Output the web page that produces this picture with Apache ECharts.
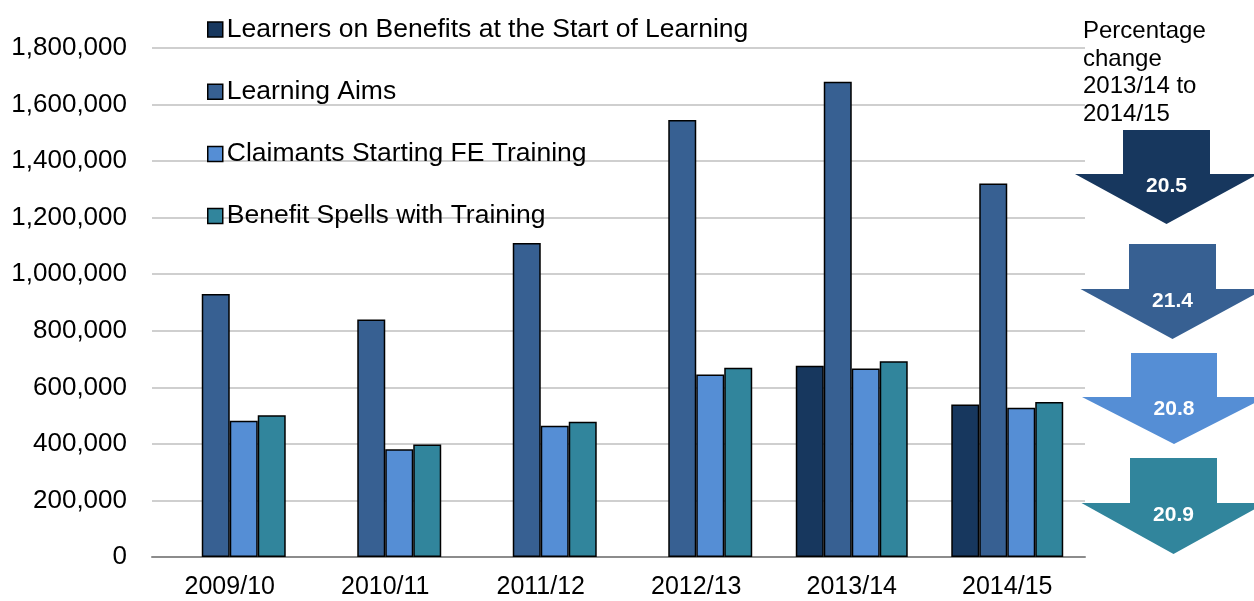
<!DOCTYPE html>
<html>
<head>
<meta charset="utf-8">
<script src="https://cdn.jsdelivr.net/npm/echarts@6/dist/echarts.min.js"></script>
<style>
  html, body { margin: 0; padding: 0; background: #fff; }
  #chart { width: 1254px; height: 601px; }
</style>
</head>
<body>
<div id="chart"></div>
<script>
var categories = ['2009/10', '2010/11', '2011/12', '2012/13', '2013/14', '2014/15'];
var learners = [null, null, null, null, 676000, 539000];
var aims = [930000, 840000, 1110000, 1545000, 1681000, 1321000];
var claimants = [482000, 381000, 464000, 645000, 667000, 528000];
var spells = [501000, 398000, 478000, 669000, 692000, 548000];
var seriesNames = [
  'Learners on Benefits at the Start of Learning',
  'Learning Aims',
  'Claimants Starting FE Training',
  'Benefit Spells with Training'
];
var pctChange = ['20.5', '21.4', '20.8', '20.9'];
var colors = ['#17375E', '#376092', '#558ED5', '#31859C'];

var chart = echarts.init(document.getElementById('chart'));

function arrow(cx, top, shoulder, tip, shaftHalf, headHalf, color, label) {
  return [{
    type: 'polygon',
    shape: {
      points: [
        [cx - shaftHalf, top], [cx + shaftHalf, top], [cx + shaftHalf, shoulder],
        [cx + headHalf, shoulder], [cx, tip], [cx - headHalf, shoulder],
        [cx - shaftHalf, shoulder]
      ]
    },
    style: { fill: color }
  }, {
    type: 'text',
    x: cx, y: shoulder + 12,
    style: {
      text: label, fill: '#fff', font: 'bold 21px "Liberation Sans", Arial',
      align: 'center', verticalAlign: 'middle'
    }
  }];
}

var graphics = [].concat(
  arrow(1166.5, 130, 174, 224, 43.5, 91.5, colors[0], pctChange[0]),
  arrow(1172.5, 244, 289, 339, 43.5, 92, colors[1], pctChange[1]),
  arrow(1174, 353, 397, 444, 43, 92, colors[2], pctChange[2]),
  arrow(1173.5, 458, 503, 554, 43.5, 92, colors[3], pctChange[3])
);
graphics.push({
  type: 'text',
  x: 1083, y: 18,
  style: {
    text: 'Percentage\nchange\n2013/14 to\n2014/15',
    fill: '#000', font: '24px "Liberation Sans", Arial', lineHeight: 27.5
  }
});

var seriesData = [learners, aims, claimants, spells];

chart.setOption({
  animation: false,
  color: colors,
  grid: { left: 152, right: 169, top: 48, bottom: 44 },
  legend: {
    orient: 'vertical',
    left: 202,
    top: 11,
    itemWidth: 15,
    itemHeight: 15,
    itemGap: 35.2,
    icon: 'rect',
    itemStyle: { borderColor: '#000', borderWidth: 1.5 },
    textStyle: { fontFamily: '"Liberation Sans", Arial', fontSize: 26.5, color: '#000', padding: [0, 0, 0, -1] },
    data: seriesNames
  },
  xAxis: [{
    type: 'category',
    data: categories,
    axisLine: { lineStyle: { color: '#8C8C8C', width: 2 } },
    axisTick: { length: 9, lineStyle: { color: '#8C8C8C', width: 2 } },
    axisLabel: { fontFamily: '"Liberation Sans", Arial', fontSize: 25, color: '#000', margin: 18 }
  }, {
    type: 'category',
    data: categories,
    position: 'bottom',
    axisLine: { show: false },
    axisTick: { inside: true, length: 9, lineStyle: { color: '#8C8C8C', width: 2 } },
    axisLabel: { show: false }
  }],
  yAxis: {
    type: 'value',
    min: 0,
    max: 1800000,
    interval: 200000,
    axisLine: { show: false },
    axisTick: { show: false },
    splitLine: { lineStyle: { color: '#BFBFBF', width: 1.5 } },
    axisLabel: {
      fontFamily: '"Liberation Sans", Arial', fontSize: 26, color: '#000', margin: 25,
      formatter: function (v) { return v.toLocaleString('en-US'); }
    }
  },
  series: seriesData.map(function (d, i) {
    return {
      name: seriesNames[i],
      type: 'bar',
      data: d,
      barGap: '0%',
      barCategoryGap: '28%',
      itemStyle: { color: colors[i], borderColor: '#000', borderWidth: 1.5 }
    };
  }),
  graphic: graphics
});
</script>
</body>
</html>
